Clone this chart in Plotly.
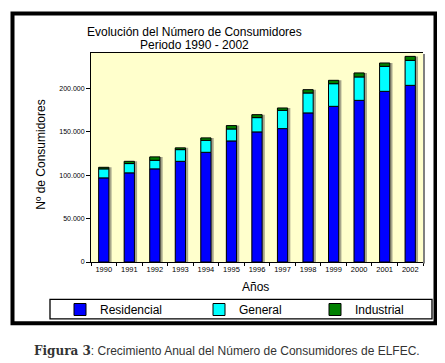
import plotly.graph_objects as go
import numpy as np

years = ["1990", "1991", "1992", "1993", "1994", "1995", "1996",
         "1997", "1998", "1999", "2000", "2001", "2002"]
residencial = [97000, 102800, 107400, 116100, 126500, 139600, 150000,
               153800, 171900, 179500, 186400, 196800, 203700]
general = [10400, 10700, 9900, 13500, 13800, 13800, 16500,
           21100, 23000, 26100, 27000, 28800, 28800]
industrial = [1800, 2600, 3900, 2000, 2800, 3900, 3400,
              2700, 3800, 3900, 4600, 3900, 4600]

OFF = 8  # default page body margin of the html page
W, H = 445 - OFF, 363 - OFF
L, R, T, B = 91 - OFF, 423 - OFF, 53 - OFF, 262.5 - OFF


def px(x):
    return (x - OFF - L) / (R - L)


def py(y):
    return (B - (y - OFF)) / (B - T)


res = np.array(residencial)
gen = np.array(general)
ind = np.array(industrial)
total = res + gen + ind

FONT = "Liberation Sans, Arial, sans-serif"

fig = go.Figure()
# bar shadow
fig.add_trace(go.Bar(x=years, y=total, width=0.52, offset=-0.215,
                     marker=dict(color="#a6a58a", line=dict(width=0)),
                     showlegend=False, hoverinfo="skip"))
fig.add_trace(go.Bar(x=years, y=residencial, name="Residencial", width=0.4, offset=-0.2,
                     legend="legend",
                     marker=dict(color="#0000ff", line=dict(color="black", width=1))))
fig.add_trace(go.Bar(x=years, y=general, base=res, name="General", width=0.4, offset=-0.2,
                     legend="legend2",
                     marker=dict(color="#00ffff", line=dict(color="black", width=1))))
fig.add_trace(go.Bar(x=years, y=industrial, base=res + gen, name="Industrial", width=0.4, offset=-0.2,
                     legend="legend3",
                     marker=dict(color="#008000", line=dict(color="black", width=1))))

shapes = [
    # outer frame
    dict(type="rect", xref="paper", yref="paper", x0=px(12.5), x1=px(435.5), y0=py(324), y1=py(13.5),
         line=dict(color="black", width=4), layer="above"),
    # legend box
    dict(type="rect", xref="paper", yref="paper", x0=px(50), x1=px(432), y0=py(319.5), y1=py(300),
         line=dict(color="black", width=1.3), fillcolor="white", layer="below"),
    # right shadow of plot area
    dict(type="line", xref="paper", yref="paper", x0=px(424), x1=px(424), y0=py(264), y1=py(54),
         line=dict(color="#808080", width=2)),
]

annotations = [
    dict(text="Evolución del Número de Consumidores", x=px(194), y=py(32), xref="paper", yref="paper",
         showarrow=False, font=dict(family=FONT, size=12, color="black"), xanchor="center", yanchor="middle"),
    dict(text="Periodo 1990 - 2002", x=px(194), y=py(45), xref="paper", yref="paper",
         showarrow=False, font=dict(family=FONT, size=12, color="black"), xanchor="center", yanchor="middle"),
    dict(text="Nº de Consumidores", x=px(41), y=py(155), xref="paper", yref="paper", textangle=-90,
         showarrow=False, font=dict(family=FONT, size=12, color="black"), xanchor="center", yanchor="middle"),
    dict(text="Años", x=px(255), y=py(288), xref="paper", yref="paper",
         showarrow=False, font=dict(family=FONT, size=12, color="black"), xanchor="center", yanchor="middle"),
    dict(text="<span style='font-family:DejaVu Serif'><b>Figura 3</b></span>: Crecimiento Anual del Número de Consumidores de ELFEC.",
         x=px(227), y=py(352), xref="paper", yref="paper",
         showarrow=False, font=dict(family=FONT, size=12, color="#333333"), xanchor="center", yanchor="middle"),
]


def leg(xpage):
    return dict(orientation="h", xref="container", yref="container",
                x=(xpage - OFF) / W, y=1 - (309.5 - OFF) / H, xanchor="left", yanchor="middle",
                bgcolor="rgba(0,0,0,0)", borderwidth=0,
                font=dict(family=FONT, size=12, color="black"))


fig.update_layout(
    width=W, height=H,
    margin=dict(l=L, r=W - R, t=T, b=H - B, pad=0, autoexpand=False),
    paper_bgcolor="white",
    plot_bgcolor="#ffffcc",
    barmode="overlay",
    separators=",.",
    shapes=shapes,
    annotations=annotations,
    legend=leg(60),
    legend2=leg(199),
    legend3=leg(315),
    font=dict(family=FONT, color="black"),
)
fig.update_xaxes(type="category", showline=True, linecolor="black", linewidth=1, mirror=True,
                 ticks="outside", tickson="boundaries", ticklen=3, tickcolor="black", tickangle=0,
                 tickfont=dict(family=FONT, size=7.5, color="black"), showgrid=False,
                 range=[-0.5, 12.5])
fig.update_yaxes(range=[0, 241000], showline=True, linecolor="black", linewidth=1,
                 ticks="outside", ticklen=4, tickcolor="black", tickformat=",d",
                 tickvals=[0, 50000, 100000, 150000, 200000],
                 tickfont=dict(family=FONT, size=7, color="black"), showgrid=False, zeroline=False)

fig.write_html("out.html")
